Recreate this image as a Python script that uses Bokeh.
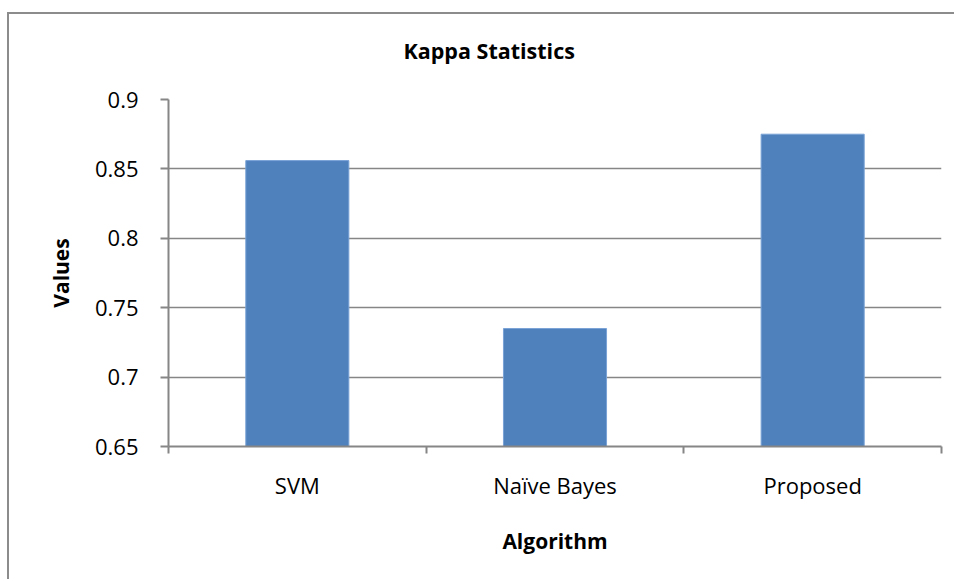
from bokeh.plotting import figure
from bokeh.layouts import column
from bokeh.models import FixedTicker, Range1d, ColumnDataSource, LinearAxis
from bokeh.embed import file_html
from bokeh.resources import INLINE

categories = ["SVM", "Naïve Bayes", "Proposed"]
values = [0.856, 0.735, 0.875]
y_ticks = [0.65, 0.7, 0.75, 0.8, 0.85, 0.9]
y_tick_labels = ["0.65", "0.7", "0.75", "0.8", "0.85", "0.9"]
title_text = "Kappa Statistics"

FONT = "Open Sans"
GRAY = "#868686"

xs = [i + 0.5 for i in range(len(categories))]
src = ColumnDataSource(dict(x=xs, top=values, cat=categories))

p = figure(width=945, height=565, output_backend="svg", toolbar_location=None,
           x_range=Range1d(0, len(categories)), y_range=Range1d(0.65, 0.9),
           min_border_left=159, min_border_right=13, min_border_top=85, min_border_bottom=133)

p.vbar(x="x", top="top", bottom=0.65, width=0.4, source=src,
       fill_color="#4F81BD", line_color="#7AA3D6", line_width=1)

p.outline_line_color = None
p.background_fill_color = "white"
p.border_fill_color = "white"

# invisible spacer axis between frame and title (one hidden tick so it takes space)
mid = len(categories) / 2
spacer = LinearAxis(ticker=FixedTicker(ticks=[mid]), axis_line_color=None,
                    major_tick_line_color=None, minor_tick_line_color=None,
                    major_tick_out=30, major_tick_in=0, minor_tick_out=0,
                    major_label_standoff=0, major_label_overrides={mid: ""},
                    major_label_text_font_size="1px")
p.add_layout(spacer, "above")

# Title
p.title.text = title_text
p.title.align = "left"
p.title.offset = 235
p.title.standoff = 10
p.title.text_font = FONT
p.title.text_font_size = "21.5px"
p.title.text_font_style = "bold"
p.title.text_color = "black"

# y axis
p.yaxis.ticker = FixedTicker(ticks=y_ticks)
p.yaxis.major_label_overrides = {v: s for v, s in zip(y_ticks, y_tick_labels)}
p.yaxis.axis_line_color = GRAY
p.yaxis.axis_line_width = 2
p.yaxis.major_tick_line_color = GRAY
p.yaxis.major_tick_line_width = 2
p.yaxis.major_tick_out = 8
p.yaxis.major_tick_in = 0
p.yaxis.minor_tick_line_color = None
p.yaxis.major_label_standoff = 22
p.yaxis.major_label_text_font = FONT
p.yaxis.major_label_text_font_size = "22px"
p.yaxis.major_label_text_color = "black"
p.yaxis.axis_label = "Values"
p.yaxis.axis_label_text_font = FONT
p.yaxis.axis_label_text_font_size = "21px"
p.yaxis.axis_label_text_font_style = "bold"
p.yaxis.axis_label_text_color = "black"
p.yaxis.axis_label_standoff = 17

# x axis (bottom)
xaxis = p.below[0]
xaxis.ticker = FixedTicker(ticks=xs, minor_ticks=list(range(len(categories) + 1)))
xaxis.major_label_overrides = {x: c for x, c in zip(xs, categories)}
xaxis.axis_line_color = GRAY
xaxis.axis_line_width = 2
xaxis.major_tick_line_color = None
xaxis.major_tick_out = 0
xaxis.major_tick_in = 0
xaxis.minor_tick_line_color = GRAY
xaxis.minor_tick_line_width = 2
xaxis.minor_tick_out = 7
xaxis.minor_tick_in = 0
xaxis.major_label_standoff = 16
xaxis.major_label_text_font = FONT
xaxis.major_label_text_font_size = "22px"
xaxis.major_label_text_color = "black"
xaxis.axis_label = "Algorithm"
xaxis.axis_label_text_font = FONT
xaxis.axis_label_text_font_size = "21px"
xaxis.axis_label_text_font_style = "bold"
xaxis.axis_label_text_color = "black"
xaxis.axis_label_standoff = 24

p.xgrid.grid_line_color = None
p.ygrid.ticker = FixedTicker(ticks=y_ticks)
p.ygrid.grid_line_color = GRAY
p.ygrid.grid_line_width = 1.5

layout = column(p, styles={"border-left": "2px solid #8c8c8c", "border-top": "2px solid #8c8c8c",
                           "margin-top": "12px", "margin-left": "7px"})

open("out.html", "w").write(file_html(layout, INLINE))
